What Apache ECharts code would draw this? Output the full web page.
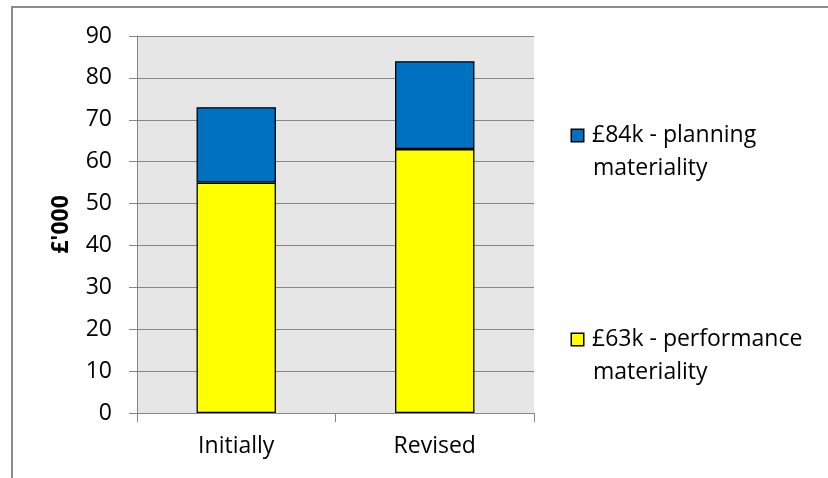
<!DOCTYPE html>
<html>
<head>
<meta charset="utf-8">
<script src="https://cdn.jsdelivr.net/npm/echarts@6/dist/echarts.min.js"></script>
<style>html,body{margin:0;padding:0;background:#fff}#c{width:828px;height:478px}</style>
</head>
<body>
<div id="c"></div>
<script>
const categories = ['Initially', 'Revised'];
const performanceValues = [55, 63];
const planningValues = [18, 21];
const performanceName = '£63k - performance materiality';
const planningName = '£84k - planning materiality';
const yTicks = { min: 0, max: 90, interval: 10 };
const yAxisName = "£'000";

const FONT = 'Open Sans';
const GRAY = '#868686';

function legendFormatter(name) {
  const parts = name.split(' materiality');
  return '{box|}{t|' + parts[0] + '}\n{sp|}{t|materiality}';
}
function legendCfg(name, color, top) {
  return {
    data: [name],
    left: 567,
    top: top,
    orient: 'vertical',
    icon: 'none',
    itemWidth: 0,
    itemHeight: 0,
    padding: 0,
    selectedMode: false,
    formatter: legendFormatter,
    textStyle: {
      color: '#000',
      fontFamily: FONT,
      fontSize: 23,
      lineHeight: 33,
      rich: {
        box: { width: 11, height: 11, backgroundColor: color, borderColor: '#000', borderWidth: 1.5 },
        sp: { width: 12 },
        t: { fontFamily: FONT, fontSize: 23, lineHeight: 33, color: '#000', padding: [0, 0, 0, 9] }
      }
    }
  };
}

const chart = echarts.init(document.getElementById('c'), null, { renderer: 'canvas' });
chart.setOption({
  animation: false,
  backgroundColor: '#fff',
  graphic: [{
    type: 'rect',
    shape: { x: 12, y: 7, width: 900, height: 600 },
    style: { fill: 'none', stroke: '#8c8c8c', lineWidth: 2 },
    silent: true
  }],
  grid: {
    left: 137, right: 294, top: 36, bottom: 65,
    show: true, backgroundColor: '#e6e6e6', borderWidth: 0
  },
  legend: [
    legendCfg(planningName, '#0070c0', 119),
    legendCfg(performanceName, '#ffff00', 323)
  ],
  xAxis: {
    type: 'category',
    data: categories,
    axisLine: { lineStyle: { color: GRAY, width: 1 } },
    axisTick: { show: true, length: 9, lineStyle: { color: GRAY } },
    axisLabel: { color: '#000', fontFamily: FONT, fontSize: 23, margin: 22 }
  },
  yAxis: {
    type: 'value',
    min: yTicks.min, max: yTicks.max, interval: yTicks.interval,
    name: yAxisName,
    nameLocation: 'middle',
    nameRotate: 90,
    nameGap: 64,
    nameTextStyle: { color: '#000', fontFamily: FONT, fontSize: 23, fontWeight: 'bold' },
    axisLine: { show: true, lineStyle: { color: GRAY, width: 1 } },
    axisTick: { show: true, length: 8, lineStyle: { color: GRAY } },
    axisLabel: { color: '#000', fontFamily: FONT, fontSize: 23, margin: 25 },
    splitLine: { show: true, lineStyle: { color: GRAY, width: 1 } }
  },
  series: [
    {
      name: performanceName, type: 'bar', stack: 'total', data: performanceValues,
      barWidth: '40%',
      itemStyle: { color: '#ffff00', borderColor: '#000', borderWidth: 1.3 }
    },
    {
      name: planningName, type: 'bar', stack: 'total', data: planningValues,
      barWidth: '40%',
      itemStyle: { color: '#0070c0', borderColor: '#000', borderWidth: 1.3 }
    }
  ]
});
</script>
</body>
</html>
